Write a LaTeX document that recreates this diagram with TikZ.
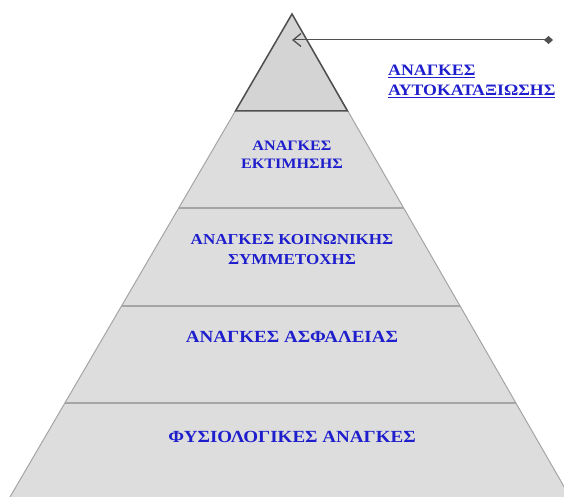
\documentclass[tikz,border=0pt]{standalone}
\usepackage{fontspec}
\setmainfont{Liberation Serif}
\newfontfamily\labelfont[FakeStretch=1.12]{Liberation Serif}
\usetikzlibrary{arrows.meta}
\definecolor{txtblue}{RGB}{30,30,205}
\definecolor{layerfill}{RGB}{221,221,221}
\definecolor{topfill}{RGB}{212,212,212}
\definecolor{topline}{RGB}{80,80,80}
\definecolor{sepline}{RGB}{165,165,165}
\tikzset{
  layertext/.style={text=txtblue, align=center, inner sep=0pt},
  sidelabel/.style={font=\labelfont\fontsize{15.9}{20}\selectfont\bfseries, text=txtblue, align=left, inner sep=0pt},
  separator/.style={draw=sepline, line width=1.4pt},
  pointer/.style={draw=topline, line width=1pt, {Diamond[length=9pt,width=8pt]}-{Straight Barb[length=8pt,width=13pt,line width=1.3pt]}}
}
\begin{document}
\begin{tikzpicture}[x=1pt,y=-1pt]
\useasboundingbox (0,0) rectangle (564,497);
\clip (0,0) rectangle (564,497);
% geometry
\coordinate (apex) at (292,14);
\coordinate (bl) at (10,497);
\coordinate (br) at (570,497);
% whole pyramid
\fill[layerfill] (apex) -- (bl) -- (br) -- cycle;
\draw[draw=sepline, line width=1pt] (bl) -- (apex) -- (br);
% top triangle
\coordinate (t1l) at (235.5,111);
\coordinate (t1r) at (347.5,111);
\filldraw[fill=topfill, draw=topline, line width=1.5pt, line join=miter] (apex) -- (t1l) -- (t1r) -- cycle;
% separators
\coordinate (s2l) at (179,208);
\coordinate (s2r) at (403.5,208);
\coordinate (s3l) at (121.5,306);
\coordinate (s3r) at (460,306);
\coordinate (s4l) at (64.5,403);
\coordinate (s4r) at (516,403);
\draw[separator] (s2l) -- (s2r);
\draw[separator] (s3l) -- (s3r);
\draw[separator] (s4l) -- (s4r);
% texts
\node[layertext, font=\labelfont\fontsize{14.4}{18.5}\selectfont\bfseries] (esteem) at (292,154.5) {ΑΝΑΓΚΕΣ\\ΕΚΤΙΜΗΣΗΣ};
\node[layertext, font=\labelfont\fontsize{15.2}{20}\selectfont\bfseries] (social) at (292,249.5) {ΑΝΑΓΚΕΣ ΚΟΙΝΩΝΙΚΗΣ\\ΣΥΜΜΕΤΟΧΗΣ};
\node[layertext, font=\labelfont\fontsize{17}{20}\selectfont\bfseries, anchor=base] (safety) at (292,342) {ΑΝΑΓΚΕΣ ΑΣΦΑΛΕΙΑΣ};
\node[layertext, font=\labelfont\fontsize{17}{20}\selectfont\bfseries, anchor=base] (physio) at (292,442) {ΦΥΣΙΟΛΟΓΙΚΕΣ ΑΝΑΓΚΕΣ};
\node[sidelabel, anchor=north west] (selfact) at (388,65) {\underline{ΑΝΑΓΚΕΣ}\\\underline{ΑΥΤΟΚΑΤΑΞΙΩΣΗΣ}};
% pointer
\coordinate (ptrstart) at (553,40);
\coordinate (ptrend) at (292,40);
\draw[pointer] (ptrstart) -- (ptrend);
\end{tikzpicture}
\end{document}
